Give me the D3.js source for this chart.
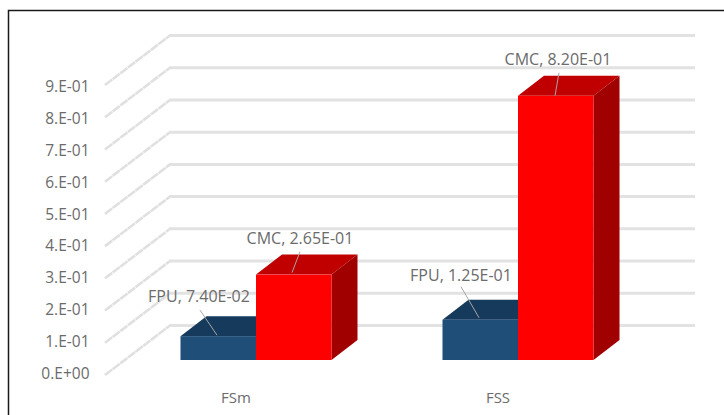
<!DOCTYPE html>
<html>
<head>
<meta charset="utf-8">
<script src="https://cdn.jsdelivr.net/npm/d3@7"></script>
<style>
html,body{margin:0;padding:0;background:#fff}
svg{display:block}
text{font-family:"Open Sans",sans-serif;fill:#6b6b6b}
</style>
</head>
<body>
<svg id="chart" width="724" height="415"></svg>
<script>
const categories = ["FSm", "FSS"];
const seriesNames = ["FPU", "CMC"];
const fpuValues = [0.074, 0.125];
const cmcValues = [0.265, 0.82];
const valueLabels = [["7.40E-02", "1.25E-01"], ["2.65E-01", "8.20E-01"]];
const axisTicks = [0, .1, .2, .3, .4, .5, .6, .7, .8, .9];
const axisTickLabels = ["0.E+00","1.E-01","2.E-01","3.E-01","4.E-01","5.E-01","6.E-01","7.E-01","8.E-01","9.E-01"];

const svg = d3.select("#chart");
const W = 724, H = 415;

// Frame around the plot: top and left rules only reach the window edges
svg.append("path").attr("d", `M8.5,${H}V10.5H${W}`).attr("fill", "none").attr("stroke", "#1a1a1a").attr("stroke-width", 1.5);

// Oblique projection: front plane of the box and the offsets to the back wall
const y = d3.scaleLinear().domain([0, 0.9]).range([360, 70]);
const tickLabelY = d3.scaleLinear().domain([0, 0.9]).range([379, 92]);
const wall = {dx: 65, dy: -49.5, x0: 105, x1: 695, front: 15};
const barDepth = {dx: 26, dy: -20};

const x0 = d3.scaleBand().domain(categories).range([125, 649]).paddingInner(0).paddingOuter(0);
const barW = 75.5;

// Walls: floor and side gridlines
const grid = svg.append("g");
axisTicks.forEach(t => {
  const yFront = y(t) + wall.front;
  const yBack = yFront + wall.dy;
  grid.append("line").attr("x1", wall.x0).attr("y1", yFront).attr("x2", wall.x0 + wall.dx).attr("y2", yBack)
    .attr("stroke", "#e0e0e0").attr("stroke-width", 2.6).attr("stroke-dasharray", "9 0.6");
  grid.append("line").attr("x1", wall.x0 + wall.dx - 1).attr("y1", yBack).attr("x2", wall.x1).attr("y2", yBack)
    .attr("stroke", "#e2e2e2").attr("stroke-width", 3);
});

// Value axis labels
const tickGroup = svg.append("g").attr("font-size", 15.5).attr("text-anchor", "end");
axisTicks.forEach((t, i) => {
  tickGroup.append("text").attr("x", 89.5).attr("y", tickLabelY(t))
    .text(axisTickLabels[i]);
});

// One oblique box: front face, top face and side face
function box(g, left, w, value, colors) {
  const top = y(value), bot = y(0), r = left + w;
  const {dx, dy} = barDepth;
  g.append("path").attr("d", `M${left},${top}L${left+dx},${top+dy}L${r+dx},${top+dy}L${r},${top}Z`).attr("fill", colors.top);
  g.append("path").attr("d", `M${r},${top}L${r+dx},${top+dy}L${r+dx},${bot+dy}L${r},${bot}Z`).attr("fill", colors.side);
  g.append("rect").attr("x", left).attr("y", top).attr("width", w).attr("height", bot - top).attr("fill", colors.front);
}

const palette = [
  {front: "#1f4e79", top: "#163a5c", side: "#163a5c"},
  {front: "#ff0000", top: "#c00000", side: "#a00000"}
];

const bars = svg.append("g");
categories.forEach((c, i) => {
  const mid = x0(c) + x0.bandwidth() / 2;
  box(bars, mid - barW, barW, fpuValues[i], palette[0]);
  box(bars, mid, barW, cmcValues[i], palette[1]);
});

// Category labels
const catGroup = svg.append("g").attr("font-size", 15).attr("text-anchor", "middle");
categories.forEach(c => {
  catGroup.append("text").attr("x", x0(c) + x0.bandwidth() / 2 - 20).attr("y", 402.5).text(c);
});

// Data labels with leader lines, offsets measured from each bar's front top edge
const callouts = [
  {s: 0, c: 0, tx: -57, ty: -34.5, lx: [-56, -39], ly: [-26, -1]},
  {s: 0, c: 1, tx: -57, ty: -38.5, lx: [-57, -39], ly: [-33, -2]},
  {s: 1, c: 0, tx: 44, ty: -30.5, lx: [44, 36], ly: [-23, -2]},
  {s: 1, c: 1, tx: 40, ty: -30.5, lx: [41, 37], ly: [-23, 0]}
];
const labels = svg.append("g");
callouts.forEach(d => {
  const mid = x0(categories[d.c]) + x0.bandwidth() / 2;
  const val = (d.s === 0 ? fpuValues : cmcValues)[d.c];
  const top = y(val);
  labels.append("line")
    .attr("x1", mid + d.lx[0]).attr("y1", top + d.ly[0])
    .attr("x2", mid + d.lx[1]).attr("y2", top + d.ly[1])
    .attr("stroke", "#a6a6a6").attr("stroke-width", 1);
  labels.append("text").attr("font-size", 16).attr("text-anchor", "middle")
    .attr("x", mid + d.tx).attr("y", top + d.ty)
    .text(`${seriesNames[d.s]}, ${valueLabels[d.s][d.c]}`);
});
</script>
</body>
</html>
